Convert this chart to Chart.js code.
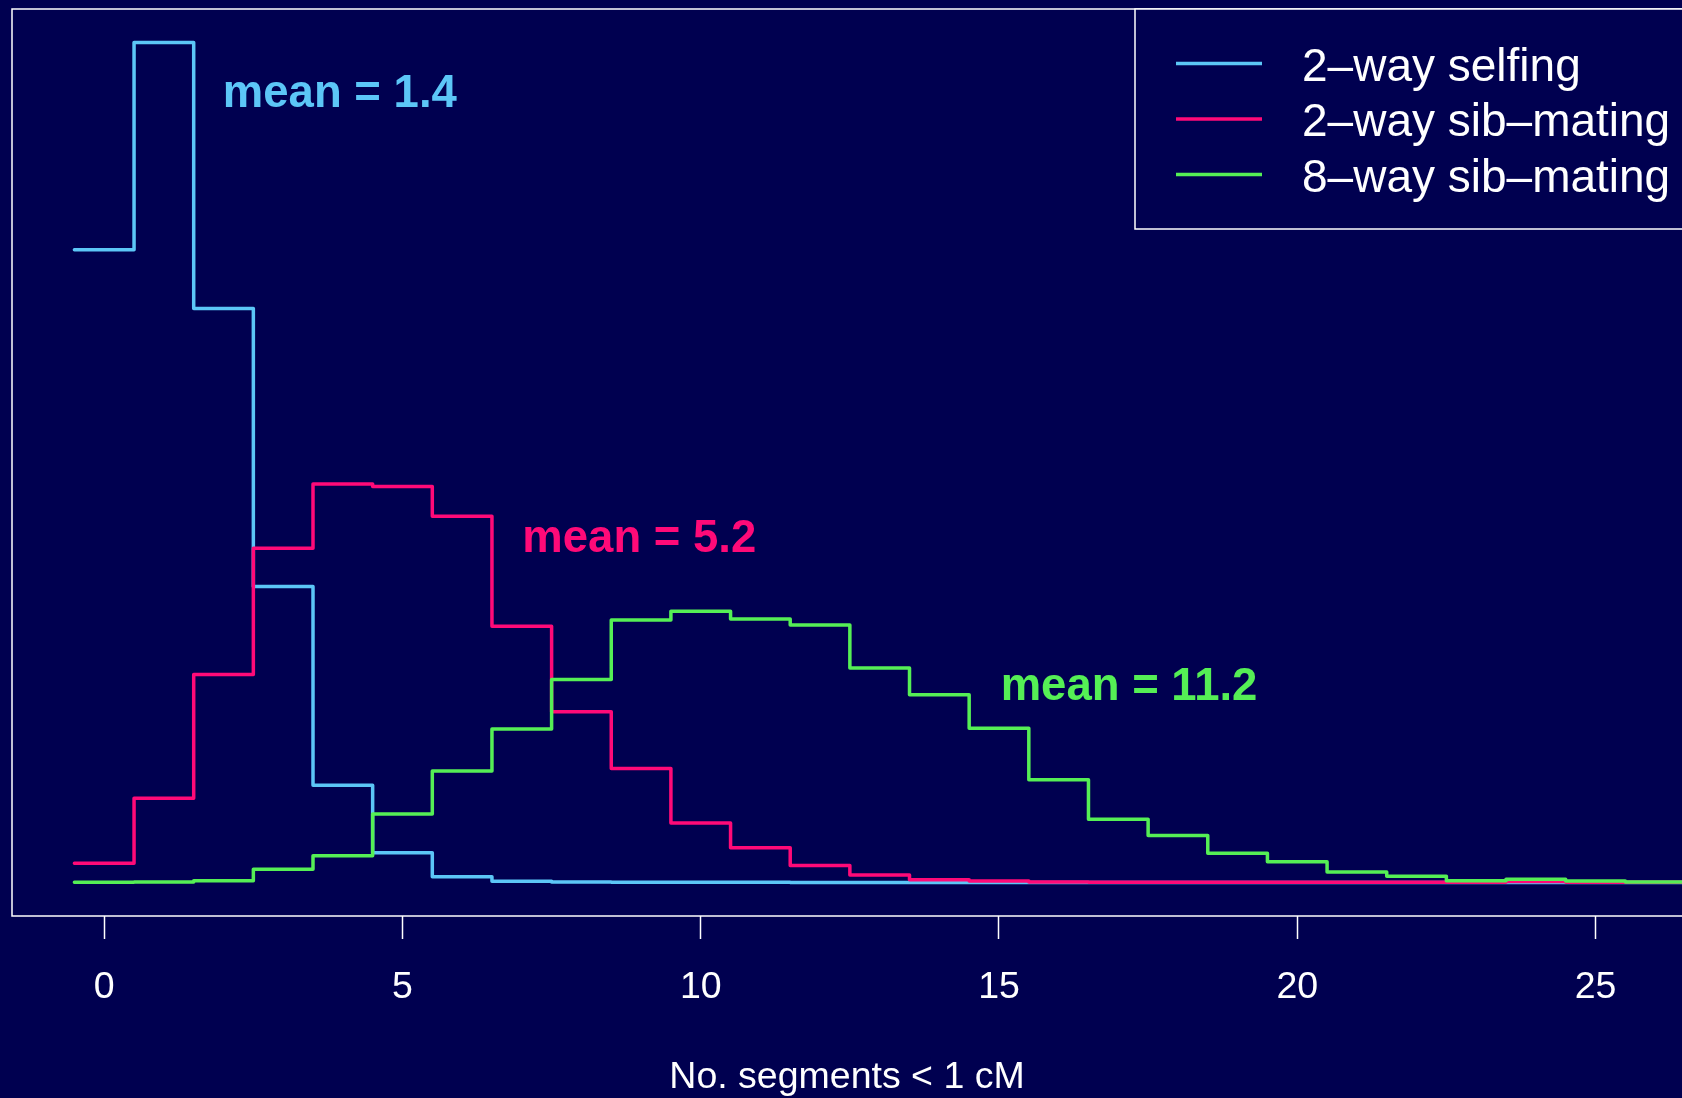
<!DOCTYPE html>
<html>
<head>
<meta charset="utf-8">
<script src="https://cdn.jsdelivr.net/npm/chart.js@4.4.1/dist/chart.umd.min.js"></script>
<style>
    html, body { margin: 0; padding: 0; background: #000050; overflow: hidden; }
    #wrap { width: 1682px; height: 1098px; }
</style>
</head>
<body>
<div id="wrap"><canvas id="segChart" width="1682" height="1098"></canvas></div>
<script>
// bin centres (number of segments) and density per bin
const binCentres = [0, 1, 2, 3, 4, 5, 6, 7, 8, 9, 10, 11, 12, 13, 14, 15, 16, 17, 18, 19, 20, 21, 22, 23, 24, 25, 26, 27];
const selfing2 = [0.2557, 0.3394, 0.2319, 0.1196, 0.0393, 0.0120, 0.0023, 0.0005, 0.0002, 0.0001, 0.0001, 0.0001, 0, 0, 0, 0, 0, 0, 0, 0, 0, 0, 0, 0, 0, 0, 0, 0];
const sibMating2 = [0.0077, 0.0340, 0.0840, 0.1350, 0.1610, 0.1600, 0.1480, 0.1035, 0.0690, 0.0460, 0.0240, 0.0140, 0.0068, 0.0030, 0.0011, 0.0006, 0.0002, 0.0001, 0.0001, 0.0001, 0.0001, 0.0001, 0.0001, 0.0001, 0.0004, 0.0001, 0.0001, 0];
const sibMating8 = [0.0001, 0.0002, 0.0007, 0.0053, 0.0108, 0.0276, 0.0450, 0.0620, 0.0820, 0.1060, 0.1096, 0.1065, 0.1040, 0.0866, 0.0758, 0.0623, 0.0415, 0.0255, 0.0190, 0.0118, 0.0083, 0.0042, 0.0025, 0.0007, 0.0013, 0.0006, 0.0002, 0.0001];

const xTickValues = [0, 5, 10, 15, 20, 25];
const seriesLabels = ["2\u2013way selfing", "2\u2013way sib\u2013mating", "8\u2013way sib\u2013mating"];
const seriesColours = ["#5cc6f7", "#ff0a78", "#55ef55"];
const meanLabels = ["mean = 1.4", "mean = 5.2", "mean = 11.2"];
const meanX = [3.95, 8.97, 17.18];
const meanY = [0.32, 0.14, 0.08];
const axisTitle = "No. segments < 1 cM";

const BG = "#000050";
const FONT = "'Liberation Sans', Arial, sans-serif";

// turn bin values into step points on the bin edges
function stepPoints(values) {
    const pts = values.map((v, i) => ({ x: binCentres[i] - 0.5, y: v }));
    const last = values.length - 1;
    pts.push({ x: binCentres[last] + 0.5, y: values[last] });
    return pts;
}

const yTop = Math.max(...selfing2, ...sibMating2, ...sibMating8);

const rPlotStyle = {
    id: "rPlotStyle",
    beforeDraw(chart) {
        const ctx = chart.ctx;
        ctx.save();
        ctx.fillStyle = BG;
        ctx.fillRect(0, 0, chart.width, chart.height);
        ctx.restore();
    },
    beforeDatasetsDraw(chart) {
        const { ctx, chartArea } = chart;
        ctx.save();
        ctx.strokeStyle = "#ffffff";
        ctx.lineWidth = 1.5;
        ctx.strokeRect(chartArea.left, chartArea.top, chartArea.right - chartArea.left + 20, chartArea.bottom - chartArea.top);
        ctx.restore();
    },
    afterDatasetsDraw(chart) {
        const { ctx, chartArea, scales } = chart;
        ctx.save();

        // mean annotations
        ctx.font = "bold 45.5px " + FONT;
        ctx.textAlign = "center";
        ctx.textBaseline = "alphabetic";
        meanLabels.forEach((txt, i) => {
            ctx.fillStyle = seriesColours[i];
            ctx.fillText(txt, scales.x.getPixelForValue(meanX[i]), scales.y.getPixelForValue(meanY[i]) + 16);
        });

        // legend box, R style
        const boxLeft = 1135;
        const boxBottom = 229;
        ctx.fillStyle = BG;
        ctx.fillRect(boxLeft, chartArea.top, chart.width, boxBottom - chartArea.top);
        ctx.strokeStyle = "#ffffff";
        ctx.lineWidth = 1.5;
        ctx.strokeRect(boxLeft, chartArea.top, chart.width, boxBottom - chartArea.top);

        ctx.font = "46px " + FONT;
        ctx.textAlign = "left";
        seriesLabels.forEach((txt, i) => {
            const y = 63.5 + i * 55.5;
            ctx.strokeStyle = seriesColours[i];
            ctx.lineWidth = 3.5;
            ctx.beginPath();
            ctx.moveTo(1176, y);
            ctx.lineTo(1262, y);
            ctx.stroke();
            ctx.fillStyle = "#ffffff";
            ctx.fillText(txt, 1302, y + 17);
        });
        ctx.restore();
    },
};

const datasets = [selfing2, sibMating2, sibMating8].map((vals, i) => ({
    label: seriesLabels[i],
    data: stepPoints(vals),
    borderColor: seriesColours[i],
    borderWidth: 3.5,
    stepped: "before",
    fill: false,
    pointRadius: 0,
    borderJoinStyle: "round",
    borderCapStyle: "round",
    order: 3 - i,
}));

new Chart(document.getElementById("segChart"), {
    type: "line",
    data: { datasets },
    options: {
        responsive: false,
        animation: false,
        devicePixelRatio: 1,
        layout: { padding: { left: 12, top: 9, right: 0, bottom: 0 } },
        plugins: {
            legend: { display: false },
            tooltip: { enabled: false },
        },
        scales: {
            x: {
                type: "linear",
                min: -1.546,
                max: 26.45,
                afterBuildTicks: (scale) => {
                    scale.ticks = xTickValues.map((v) => ({ value: v }));
                },
                grid: {
                    drawOnChartArea: false,
                    drawTicks: true,
                    tickLength: 23,
                    tickColor: "#ffffff",
                    tickWidth: 1.5,
                },
                border: { display: false },
                ticks: {
                    color: "#ffffff",
                    font: { family: FONT, size: 37.5 },
                    padding: 26,
                    maxRotation: 0,
                    autoSkip: false,
                },
                title: {
                    display: true,
                    text: axisTitle,
                    color: "#ffffff",
                    font: { family: FONT, size: 37.5, lineHeight: 1.1 },
                    padding: { top: 20.75, bottom: 0 },
                },
            },
            y: {
                display: false,
                min: -0.04 * yTop,
                max: 1.04 * yTop,
            },
        },
    },
    plugins: [rPlotStyle],
});
</script>
</body>
</html>
